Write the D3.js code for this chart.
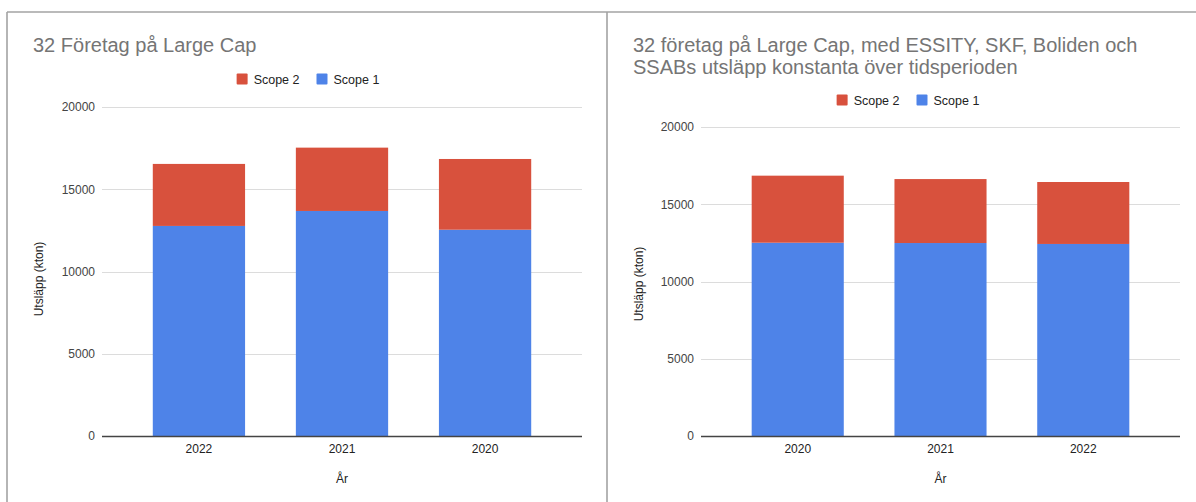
<!DOCTYPE html>
<html>
<head>
<meta charset="utf-8">
<script src="https://cdn.jsdelivr.net/npm/d3@7"></script>
<style>
  html, body { margin: 0; padding: 0; background: #fff; }
  svg { display: block; font-family: "Liberation Sans", Arial, sans-serif; }
</style>
</head>
<body>
<svg id="chart" width="1196" height="502"></svg>
<script>
// ---- Data ----
const leftTitle = ["32 Företag på Large Cap"];
const leftYears = ["2022", "2021", "2020"];
const leftScope1 = [12770, 13680, 12540];
const leftScope2 = [3770, 3850, 4300];

const rightTitle = ["32 företag på Large Cap, med ESSITY, SKF, Boliden och", "SSABs utsläpp konstanta över tidsperioden"];
const rightYears = ["2020", "2021", "2022"];
const rightScope1 = [12510, 12490, 12430];
const rightScope2 = [4340, 4140, 4010];

const yTicks = [0, 5000, 10000, 15000, 20000];
const seriesNames = ["Scope 2", "Scope 1"];
const xTitle = "År";
const yTitle = "Utsläpp (kton)";

// ---- Styles ----
const colors = { "Scope 1": "#4e83e8", "Scope 2": "#d8513d" };
const svg = d3.select("#chart");

// panel frame
const frame = svg.append("g").attr("stroke", "#a3a3a3").attr("stroke-width", 1.6);
frame.append("line").attr("x1", 7).attr("x2", 1196).attr("y1", 12).attr("y2", 12);
frame.append("line").attr("x1", 7).attr("x2", 7).attr("y1", 12).attr("y2", 502);
frame.append("line").attr("x1", 607).attr("x2", 607).attr("y1", 12).attr("y2", 502);

function drawChart(cfg) {
  const g = svg.append("g");
  const x = d3.scaleBand().domain(cfg.years).range([cfg.x0, cfg.x1])
    .paddingInner(0.355).paddingOuter(0.355);
  const y = d3.scaleLinear().domain([0, 20000]).range([cfg.y1, cfg.y0]);

  // title
  const t = g.append("text").attr("x", cfg.titleX).attr("fill", "#757575")
    .attr("font-size", 20);
  cfg.title.forEach((line, i) => {
    t.append("tspan").attr("x", cfg.titleX).attr("y", cfg.titleY + i * 22).text(line);
  });

  // legend
  const lg = g.append("g").attr("font-size", 12.5).attr("fill", "#222");
  let cx = 0;
  seriesNames.forEach((name, i) => {
    const it = lg.append("g");
    it.append("rect").attr("x", 0).attr("y", -5.5).attr("width", 11).attr("height", 11)
      .attr("rx", 1).attr("fill", colors[name]);
    const tx = it.append("text").attr("x", 17).attr("y", 4.5).text(name);
    const w = 17 + tx.node().getComputedTextLength();
    it.attr("transform", `translate(${cx},0)`);
    cx += w + (i < seriesNames.length - 1 ? 17 : 0);
  });
  lg.attr("transform", `translate(${cfg.legendCX - cx / 2},${cfg.legendY})`);

  // gridlines + y ticks
  const ya = d3.axisLeft(y).tickValues(yTicks).tickSize(0).tickPadding(0)
    .tickFormat(d3.format("d"));
  const yg = g.append("g").attr("transform", `translate(${cfg.x0 - 7},0)`).call(ya);
  yg.select(".domain").remove();
  yg.selectAll("text").attr("font-size", 12).attr("fill", "#444")
    .attr("font-family", "Liberation Sans, Arial, sans-serif");
  g.append("g").selectAll("line").data(yTicks.filter(d => d > 0)).join("line")
    .attr("x1", cfg.x0).attr("x2", cfg.x1)
    .attr("y1", d => Math.round(y(d)) + 0.5).attr("y2", d => Math.round(y(d)) + 0.5)
    .attr("stroke", "#dcdcdc").attr("stroke-width", 1);

  // stacked bars
  const rows = cfg.years.map((yr, i) => ({ year: yr, "Scope 1": cfg.s1[i], "Scope 2": cfg.s2[i] }));
  const stack = d3.stack().keys(["Scope 1", "Scope 2"])(rows);
  g.append("g").selectAll("g").data(stack).join("g")
    .attr("fill", d => colors[d.key])
    .selectAll("rect").data(d => d).join("rect")
    .attr("x", d => x(d.data.year))
    .attr("width", x.bandwidth())
    .attr("y", d => y(d[1]))
    .attr("height", d => y(d[0]) - y(d[1]));

  // baseline axis
  g.append("line").attr("x1", cfg.x0).attr("x2", cfg.x1)
    .attr("y1", y(0) + 0.5).attr("y2", y(0) + 0.5)
    .attr("stroke", "#444").attr("stroke-width", 1.3);

  // x axis labels
  const xa = d3.axisBottom(x).tickSize(0).tickPadding(0);
  const xg = g.append("g").attr("transform", `translate(0,${y(0)})`).call(xa);
  xg.select(".domain").remove();
  xg.selectAll("text").attr("font-size", 12).attr("fill", "#222")
    .attr("dy", null).attr("y", 17)
    .attr("font-family", "Liberation Sans, Arial, sans-serif");

  // axis titles
  g.append("text").attr("x", (cfg.x0 + cfg.x1) / 2).attr("y", 483)
    .attr("text-anchor", "middle").attr("font-size", 12).attr("fill", "#222").text(xTitle);
  g.append("text").attr("transform", `translate(${cfg.yTitleX},${cfg.yTitleY}) rotate(-90)`)
    .attr("text-anchor", "middle").attr("font-size", 12).attr("fill", "#222").text(yTitle);
}

drawChart({
  title: leftTitle, years: leftYears, s1: leftScope1, s2: leftScope2,
  x0: 102, x1: 582, y0: 107, y1: 436,
  titleX: 33, titleY: 52, legendCX: 308, legendY: 79,
  yTitleX: 43, yTitleY: 279
});
drawChart({
  title: rightTitle, years: rightYears, s1: rightScope1, s2: rightScope2,
  x0: 701, x1: 1180, y0: 127, y1: 436,
  titleX: 633, titleY: 52, legendCX: 908, legendY: 100,
  yTitleX: 643, yTitleY: 284
});
</script>
</body>
</html>
